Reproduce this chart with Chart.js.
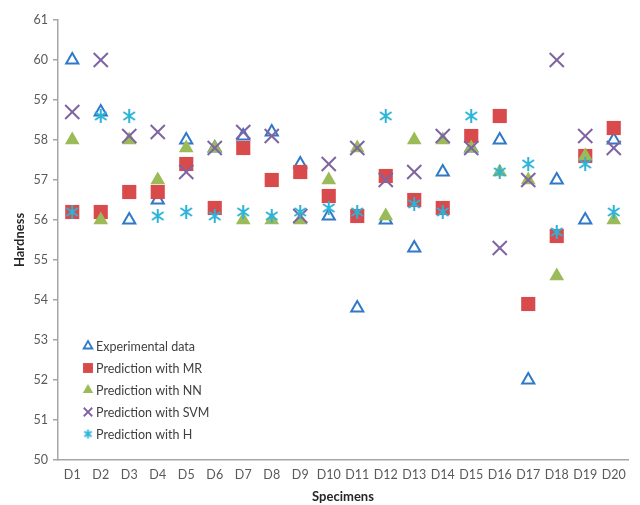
<!DOCTYPE html>
<html>
<head>
<meta charset="utf-8">
<script src="https://cdn.jsdelivr.net/npm/chart.js@4/dist/chart.umd.min.js"></script>
<style>
  html, body { margin: 0; padding: 0; background: #fff; }
  #wrap { width: 640px; height: 505px; position: relative; }
</style>
</head>
<body>
<div id="wrap"><canvas id="chart"></canvas></div>
<script>
// === Data ===
const specimens = ['D1','D2','D3','D4','D5','D6','D7','D8','D9','D10','D11','D12','D13','D14','D15','D16','D17','D18','D19','D20'];
const experimental = [60.0, 58.7, 56.0, 56.5, 58.0, 57.8, 58.1, 58.2, 57.4, 56.1, 53.8, 56.0, 55.3, 57.2, 57.8, 58.0, 52.0, 57.0, 56.0, 58.0];
const predMR  = [56.2, 56.2, 56.7, 56.7, 57.4, 56.3, 57.8, 57.0, 57.2, 56.6, 56.1, 57.1, 56.5, 56.3, 58.1, 58.6, 53.9, 55.6, 57.6, 58.3];
const predNN  = [58.0, 56.0, 58.0, 57.0, 57.8, 57.8, 56.0, 56.0, 56.0, 57.0, 57.8, 56.1, 58.0, 58.0, 57.8, 57.2, 57.0, 54.6, 57.6, 56.0];
const predSVM = [58.7, 60.0, 58.1, 58.2, 57.2, 57.8, 58.2, 58.1, 56.1, 57.4, 57.8, 57.0, 57.2, 58.1, 57.8, 55.3, 57.0, 60.0, 58.1, 57.8];
const predH   = [56.2, 58.6, 58.6, 56.1, 56.2, 56.1, 56.2, 56.1, 56.2, 56.3, 56.2, 58.6, 56.4, 56.2, 58.6, 57.2, 57.4, 55.7, 57.4, 56.2];

const FONT = 'Lato';
const TEXT = '#595959';
const AXIS = '#a6a6a6';

// 6-armed asterisk like the spreadsheet "star" marker
function makeAsterisk(size, color, lw) {
    const c = document.createElement('canvas');
    c.width = size; c.height = size;
    const g = c.getContext('2d');
    g.strokeStyle = color;
    g.lineWidth = lw;
    const m = size / 2, r = size / 2 - 1;
    const a = Math.PI / 180 * 35;
    g.beginPath();
    g.moveTo(m, m - r); g.lineTo(m, m + r);
    g.moveTo(m - r * Math.cos(a), m - r * Math.sin(a)); g.lineTo(m + r * Math.cos(a), m + r * Math.sin(a));
    g.moveTo(m - r * Math.cos(a), m + r * Math.sin(a)); g.lineTo(m + r * Math.cos(a), m - r * Math.sin(a));
    g.stroke();
    return c;
}

const starBig = makeAsterisk(16, '#2bb3d8', 2);
const starSmall = makeAsterisk(11, '#2bb3d8', 1.8);

// order: lower value ends up on top, so the last series is painted over the first
const series = [
    { label: 'Experimental data', data: experimental, pointStyle: 'triangle', radius: 7, bg: 'rgba(0,0,0,0)', border: '#2f79c8', bw: 2, lr: 5, order: 5 },
    { label: 'Prediction with MR', data: predMR, pointStyle: 'rect', radius: 10, bg: '#d94a4c', border: '#d94a4c', bw: 0, lr: 7, order: 4 },
    { label: 'Prediction with NN', data: predNN, pointStyle: 'triangle', radius: 8.5, bg: '#9bbb59', border: '#9bbb59', bw: 0, lr: 6, order: 3 },
    { label: 'Prediction with SVM', data: predSVM, pointStyle: 'crossRot', radius: 10, bg: '#8064a2', border: '#8064a2', bw: 2, lr: 6, order: 2 },
    { label: 'Prediction with H', data: predH, pointStyle: starBig, radius: 8, bg: '#2bb3d8', border: '#2bb3d8', bw: 2, lr: 6, order: 1, legendStyle: starSmall }
];

const datasets = series.map(s => ({
    label: s.label,
    data: s.data,
    showLine: false,
    pointStyle: s.pointStyle,
    pointRadius: s.radius,
    pointBackgroundColor: s.bg,
    pointBorderColor: s.border,
    pointBorderWidth: s.bw,
    order: s.order
}));

// legend drawn inside the plot, lower left
const insideLegend = {
    id: 'insideLegend',
    afterDraw(chart) {
        const ctx = chart.ctx;
        const area = chart.chartArea;
        const x0 = area.left + 30;
        let y = area.bottom - 114;
        ctx.save();
        series.forEach(s => {
            const style = s.legendStyle || s.pointStyle;
            const bw = s.bw ? Math.min(s.bw, 1.8) : 0;
            ctx.fillStyle = s.bg;
            ctx.strokeStyle = s.border;
            ctx.lineWidth = bw;
            Chart.helpers.drawPoint(ctx, { pointStyle: style, radius: s.lr, rotation: 0, borderWidth: bw }, x0, y);
            ctx.font = '12.5px ' + FONT;
            ctx.fillStyle = '#404040';
            ctx.textBaseline = 'middle';
            ctx.textAlign = 'left';
            ctx.fillText(s.label, x0 + 8, y + 1);
            y += 22;
        });
        ctx.restore();
    }
};

new Chart(document.getElementById('chart'), {
    type: 'line',
    data: { labels: specimens, datasets: datasets },
    options: {
        responsive: true,
        maintainAspectRatio: false,
        animation: false,
        layout: { padding: { left: 0, right: 8, top: 20, bottom: 0 } },
        plugins: {
            legend: { display: false },
            tooltip: { enabled: false }
        },
        scales: {
            x: {
                offset: true,
                grid: { display: false, drawTicks: false, tickLength: 0 },
                border: { color: AXIS, width: 1.5 },
                ticks: { color: TEXT, font: { family: FONT, size: 12.5 }, padding: 7, maxRotation: 0, autoSkip: false },
                title: { display: true, text: 'Specimens', color: '#262626', font: { family: FONT, size: 13, weight: 'bold' }, padding: { top: 4, bottom: 0 } },
                afterFit: (scale) => { scale.height = 45; }
            },
            y: {
                min: 50,
                max: 61,
                grid: { drawOnChartArea: false, drawTicks: true, tickLength: 5, color: AXIS, lineWidth: 1.5 },
                border: { color: AXIS, width: 1.5 },
                ticks: { stepSize: 1, color: TEXT, font: { family: FONT, size: 12.5 }, padding: 5 },
                title: { display: true, text: 'Hardness', color: '#262626', font: { family: FONT, size: 13, weight: 'bold' }, padding: { top: 12, bottom: 0 } },
                afterFit: (scale) => { scale.width = 58; }
            }
        }
    },
    plugins: [insideLegend]
});
</script>
</body>
</html>
